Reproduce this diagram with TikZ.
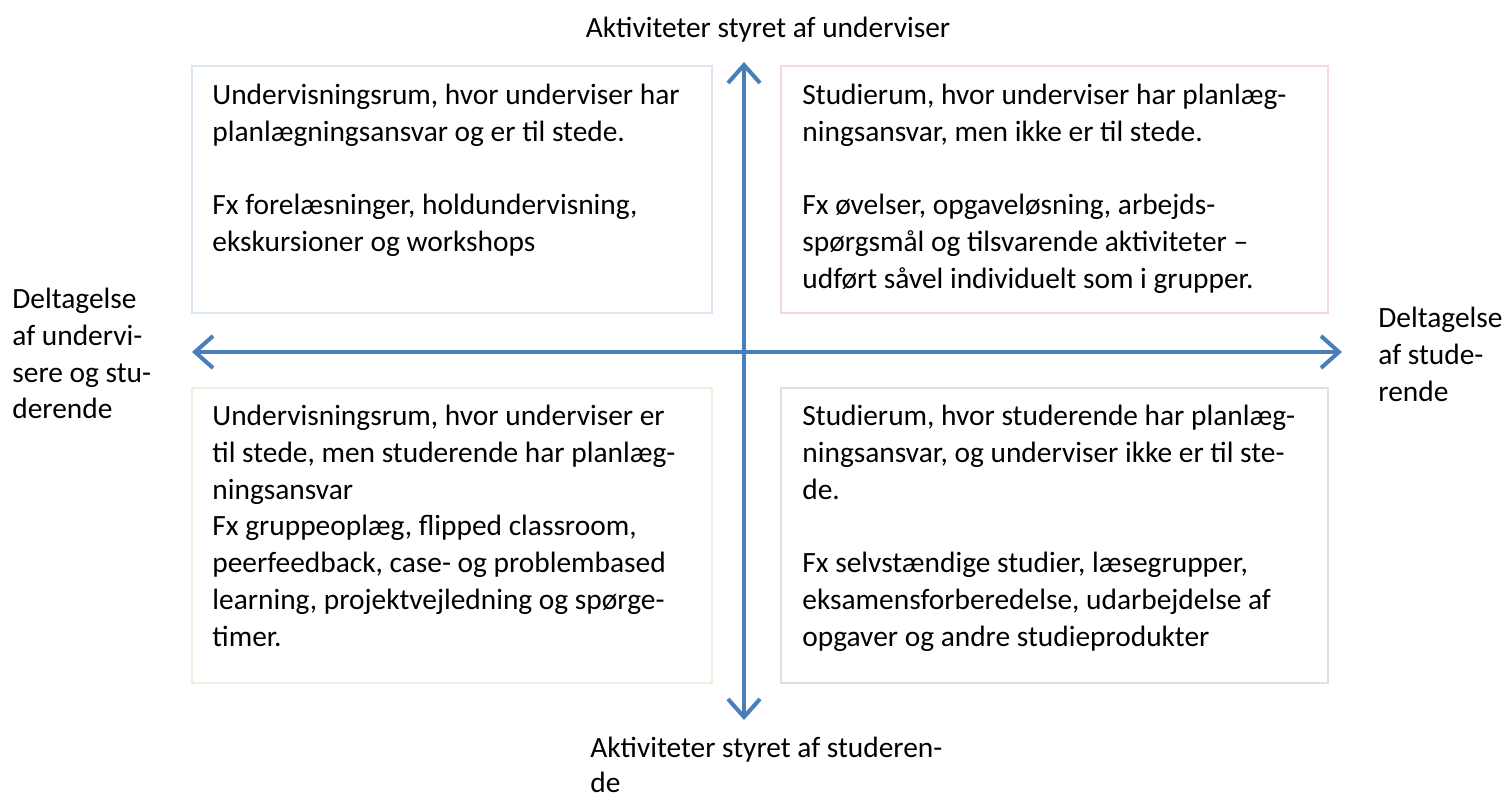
\documentclass[tikz,border=0pt]{standalone}
\usepackage{fontspec}
\setmainfont{Carlito}
\usetikzlibrary{arrows.meta}
\definecolor{axisblue}{HTML}{4A7EBB}
\definecolor{bTL}{HTML}{DCE6F2}
\definecolor{bTR}{HTML}{F2DCDB}
\definecolor{bBL}{HTML}{EBF1DE}
\definecolor{bBR}{HTML}{E0DCEA}
\begin{document}
\begin{tikzpicture}[x=0.5pt,y=-0.5pt,
  quad/.style={draw=#1, line width=0.8pt, fill=white},
  txt/.style={anchor=north west, align=left, inner sep=0pt, font=\fontsize{14.7}{18.35}\selectfont},
  lbl/.style={inner sep=0pt, align=left, font=\fontsize{14.7}{18.35}\selectfont},
  axis/.style={draw=axisblue, line width=2pt, {Straight Barb[length=9pt,width=16pt,line width=2pt]}-{Straight Barb[length=9pt,width=16pt,line width=2pt]}}]
\useasboundingbox (0,0) rectangle (1505,796);
% boxes
\draw[quad=bTL] (192,66) rectangle (712,313);
\draw[quad=bTR] (781,66) rectangle (1328,313);
\draw[quad=bBL] (192,388) rectangle (712,683);
\draw[quad=bBR] (781,388) rectangle (1328,683);
% axis ends
\coordinate (L) at (192,352);
\coordinate (R) at (1342,352);
\coordinate (T) at (744,62);
\coordinate (B) at (744,720);
\draw[axis] (L) -- (R);
\draw[axis] (B) -- (T);
% box texts
\node[txt] (tl) at (212,84) {Undervisningsrum, hvor underviser har\\planlægningsansvar og er til stede.\\[18.35pt]Fx forelæsninger, holdundervisning,\\ekskursioner og workshops};
\node[txt] (tr) at (802,84) {Studierum, hvor underviser har planlæg-\\ningsansvar, men ikke er til stede.\\[18.35pt]Fx øvelser, opgaveløsning, arbejds-\\spørgsmål og tilsvarende aktiviteter –\\udført såvel individuelt som i grupper.};
\node[txt] (bl) at (212,405) {Undervisningsrum, hvor underviser er\\til stede, men studerende har planlæg-\\ningsansvar\\Fx gruppeoplæg, flipped classroom,\\peerfeedback, case- og problembased\\learning, projektvejledning og spørge-\\timer.};
\node[txt] (br) at (802,405) {Studierum, hvor studerende har planlæg-\\ningsansvar, og underviser ikke er til ste-\\de.\\[18.35pt]Fx selvstændige studier, læsegrupper,\\eksamensforberedelse, udarbejdelse af\\opgaver og andre studieprodukter};
% axis labels
\node[lbl, anchor=north] (top) at (768,17) {Aktiviteter styret af underviser};
\node[lbl, anchor=north west] (bot) at (590,737) {Aktiviteter styret af studeren-\\[-1pt]de};
\node[lbl, anchor=north west] (left) at (12,288) {Deltagelse\\af undervi-\\sere og stu-\\derende};
\node[lbl, anchor=north west] (right) at (1378,307) {Deltagelse\\af stude-\\rende};
\end{tikzpicture}
\end{document}
